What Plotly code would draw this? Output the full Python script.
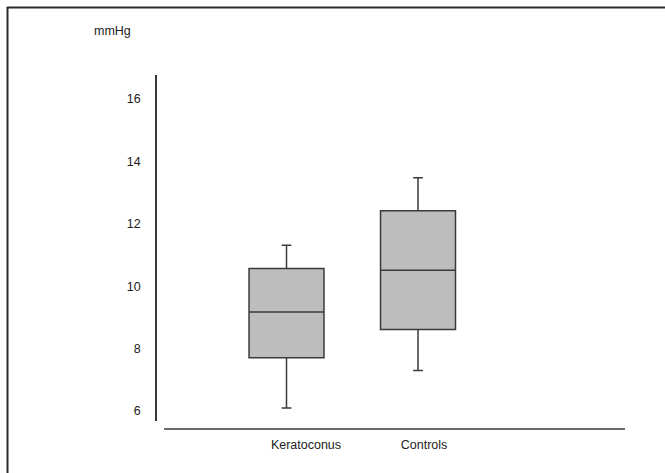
import plotly.graph_objects as go

# ---- data ----
categories = ["Keratoconus", "Controls"]
lower_whisker = [6.10, 7.30]
q1_values = [7.71, 8.61]
medians = [9.17, 10.51]
q3_values = [10.57, 12.42]
upper_whisker = [11.31, 13.48]
y_ticks = [6, 8, 10, 12, 14, 16]
y_unit = "mmHg"

W, H = 665, 473

def px(x):
    return x / W

def py(y):
    return 1 - y / H

positions = [1, 2]
label_shift = [0.148, 0.046]

fig = go.Figure()
fig.add_trace(go.Box(
    x=positions,
    q1=q1_values,
    median=medians,
    q3=q3_values,
    lowerfence=lower_whisker,
    upperfence=upper_whisker,
    width=0.57,
    whiskerwidth=0.13,
    fillcolor="#bdbdbd",
    line=dict(color="#3a3a3a", width=1.5),
    boxpoints=False,
    hoverinfo="skip",
    showlegend=False,
))

font = dict(family="Liberation Sans, Arial, sans-serif", size=12.5, color="#222222")

fig.update_layout(
    width=W, height=H,
    margin=dict(l=0, r=0, t=0, b=0),
    paper_bgcolor="white",
    plot_bgcolor="white",
    font=font,
    xaxis=dict(
        domain=[px(164), px(625)],
        range=[0.0684, 3.574],
        anchor="free",
        position=py(429),
        showline=True,
        linecolor="#6a6a6a",
        linewidth=2,
        showgrid=False,
        zeroline=False,
        tickmode="array",
        tickvals=[p + s for p, s in zip(positions, label_shift)],
        ticktext=categories,
        ticks="",
        ticklabelstandoff=4,
        fixedrange=True,
    ),
    yaxis=dict(
        domain=[py(421), py(75)],
        range=[5.68, 16.77],
        anchor="free",
        position=px(156),
        showline=True,
        linecolor="#3a3a3a",
        linewidth=1.5,
        showgrid=False,
        zeroline=False,
        tickmode="array",
        tickvals=y_ticks,
        ticks="",
        ticklabelstandoff=12,
        fixedrange=True,
    ),
    annotations=[
        dict(text=y_unit, xref="paper", yref="paper", x=px(92), y=py(31),
             xanchor="left", yanchor="middle", showarrow=False, font=font),
    ],
    shapes=[
        dict(type="line", xref="paper", yref="paper", x0=px(7), x1=1, y0=py(7.5), y1=py(7.5),
             line=dict(color="#2a2a2a", width=2)),
        dict(type="line", xref="paper", yref="paper", x0=px(7.5), x1=px(7.5), y0=py(7), y1=0,
             line=dict(color="#2a2a2a", width=2)),
    ],
)

fig.write_html(
    "out.html",
    config={"displayModeBar": False},
    post_script="document.body.style.margin='0px';document.body.style.overflow='hidden';",
)
